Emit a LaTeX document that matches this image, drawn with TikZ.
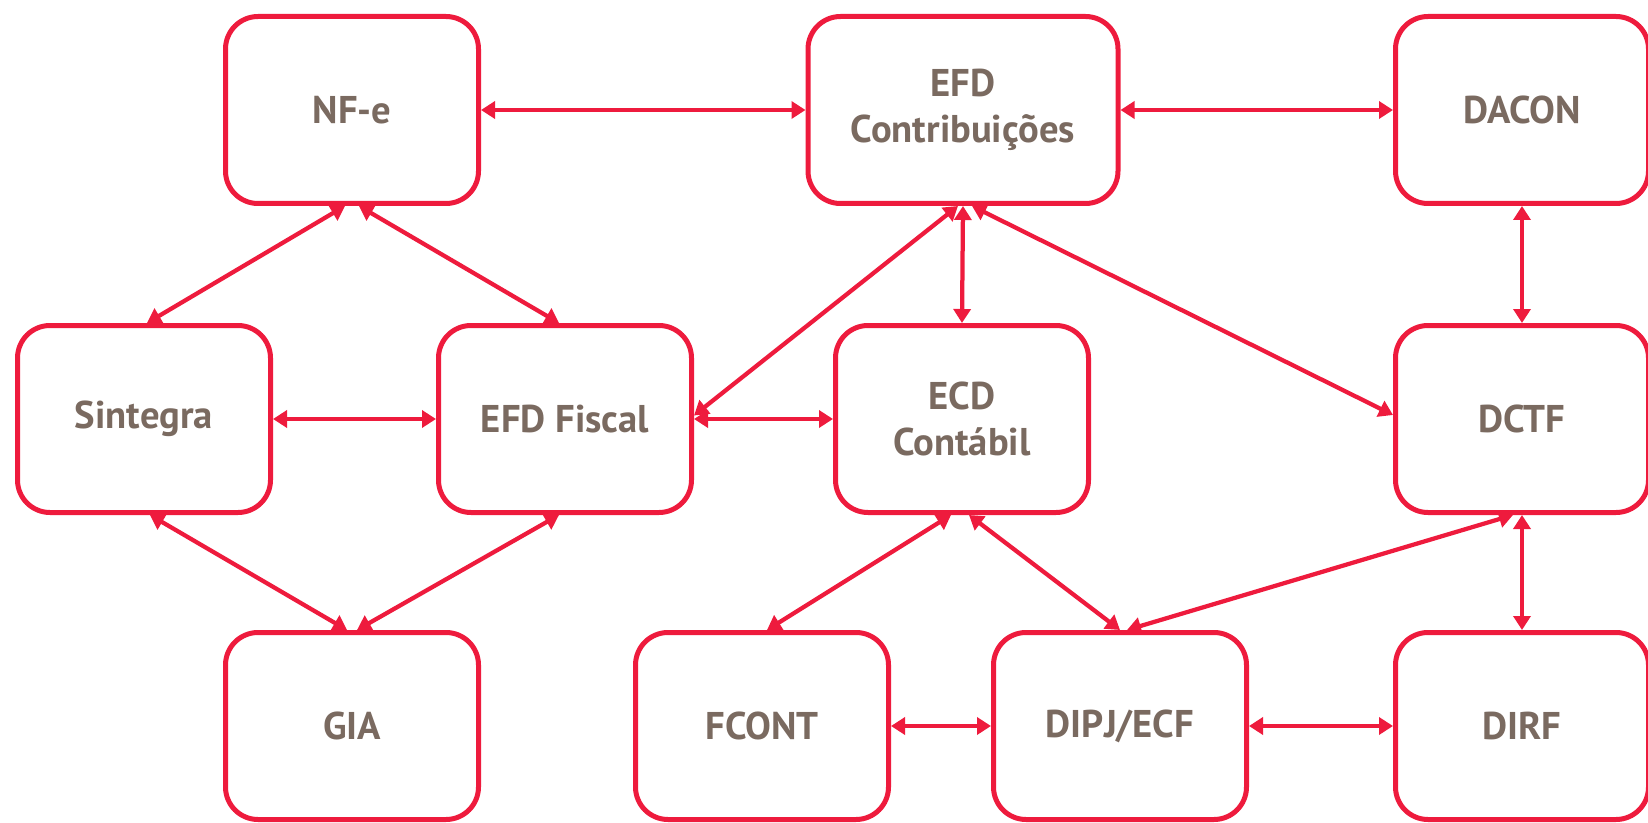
\documentclass[tikz,border=0pt]{standalone}
\usepackage{fontspec}
\setmainfont{PT Sans}
\usetikzlibrary{arrows.meta}
\definecolor{boxred}{HTML}{EE1B3D}
\definecolor{txtgray}{HTML}{7A6A60}
\tikzset{
	box/.style={draw=boxred, line width=0.1cm, rounded corners=0.65cm, minimum width=5.06cm, minimum height=3.74cm, align=center, text=txtgray, font=\fontsize{22}{26}\selectfont\bfseries},
	link/.style={draw=boxred, line width=0.085cm, {Triangle[length=0.28cm,width=0.34cm]}-{Triangle[length=0.28cm,width=0.34cm]}},
}
\begin{document}
\begin{tikzpicture}
		\useasboundingbox (0,0) rectangle (32.96,16.44);

		\node (nfe)[box] at (7.04,14.24)   {NF-e};
		\node (efdc)[box, minimum width=6.2cm] at (19.26,14.24)   {EFD\\Contribuições};
		\node (dacon)[box] at (30.44,14.24)   {DACON};

		\node (sint)[box] at (2.88,8.06)   {Sintegra};
		\node (fisc)[box] at (11.3,8.06)   {EFD Fiscal};
		\node (ecd)[box] at (19.24,8.06)   {ECD\\Contábil};
		\node (dctf)[box] at (30.44,8.06)   {DCTF};

		\node (gia)[box] at (7.04,1.92)   {GIA};
		\node (fcont)[box] at (15.24,1.92)   {FCONT};
		\node (dipj)[box] at (22.4,1.92)   {DIPJ/ECF};
		\node (dirf)[box] at (30.44,1.92)   {DIRF};

		\draw[link] (nfe.east) -- (efdc.west);
		\draw[link] (efdc.east) -- (dacon.west);
		\draw[link] ([xshift=-0.14cm]nfe.south) -- ([xshift=0.06cm]sint.north);
		\draw[link] ([xshift=0.14cm]nfe.south) -- ([xshift=-0.12cm]fisc.north);

		\draw[link] (sint.east) -- (fisc.west);
		\draw[link] (fisc.east) -- (ecd.west);
		\draw[link] ([xshift=-0.1cm]efdc.south) -- ([yshift=0.07cm]fisc.east);
		\draw[link] (efdc.south) -- (ecd.north);
		\draw[link] ([xshift=0.18cm]efdc.south) -- ([yshift=0.08cm]dctf.west);
		\draw[link] (dacon.south) -- (dctf.north);

		\draw[link] ([xshift=0.12cm]sint.south) -- ([xshift=-0.1cm]gia.north);
		\draw[link] ([xshift=-0.12cm]fisc.south) -- ([xshift=0.1cm]gia.north);
		\draw[link] ([xshift=-0.22cm]ecd.south) -- ([xshift=0.1cm]fcont.north);
		\draw[link] ([xshift=0.14cm]ecd.south) -- (dipj.north);
		\draw[link] ([xshift=-0.18cm]dctf.south) -- ([xshift=0.14cm]dipj.north);
		\draw[link] (dctf.south) -- (dirf.north);

		\draw[link] (fcont.east) -- (dipj.west);
		\draw[link] (dipj.east) -- (dirf.west);
	\end{tikzpicture}
\end{document}
